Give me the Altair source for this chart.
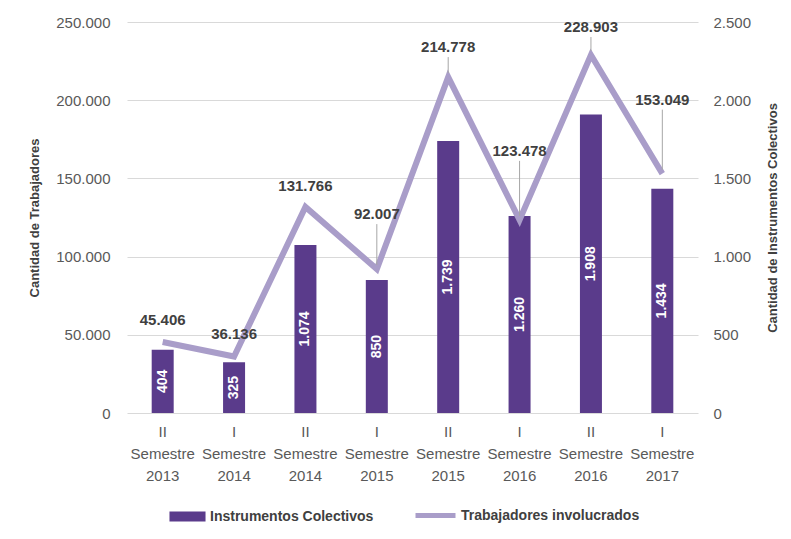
import altair as alt
import pandas as pd

categories = ["II|Semestre|2013", "I|Semestre|2014", "II|Semestre|2014", "I|Semestre|2015",
              "II|Semestre|2015", "I|Semestre|2016", "II|Semestre|2016", "I|Semestre|2017"]
instrumentos = [404, 325, 1074, 850, 1739, 1260, 1908, 1434]
trabajadores = [45406, 36136, 131766, 92007, 214778, 123478, 228903, 153049]

# label styling (vertical lift of the line labels in pixels, and whether a leader line is drawn)
label_lift_px = [22, 22, 21, 55, 30, 69, 28, 74]
leader = [False, False, False, True, True, True, True, True]

W, H = 571, 391
YMAX_L, YMAX_R = 250000, 2500
px = YMAX_L / H


def fmt(v):
    return f"{v:,}".replace(",", ".")


df = pd.DataFrame({
    "cat": categories,
    "inst": instrumentos,
    "trab": trabajadores,
})
df["inst_mid"] = df["inst"] / 2
df["inst_lbl"] = [fmt(v) for v in instrumentos]
df["trab_lbl"] = [fmt(v) for v in trabajadores]
df["lbl_y"] = [t + l * px for t, l in zip(trabajadores, label_lift_px)]
df["lead_top"] = [t + (l - 10) * px for t, l in zip(trabajadores, label_lift_px)]
df["lead_bot"] = [t + 4 * px for t in trabajadores]
df["leader"] = leader

FONT = "Liberation Sans"
GRAY = "#595959"
DARK = "#404040"
BAR = "#5a3b8b"
LINE = "#a99dc9"

xenc = alt.X("cat:N", sort=categories, title=None,
             scale=alt.Scale(paddingInner=0, paddingOuter=0),
             axis=alt.Axis(labelExpr="split(datum.label, '|')", labelAngle=0,
                           labelFont=FONT, labelFontSize=15, labelColor=GRAY,
                           labelLineHeight=22, labelPadding=11, labelBaseline="top",
                           ticks=False, domain=False))

yL = alt.Scale(domain=[0, YMAX_L])
yR = alt.Scale(domain=[0, YMAX_R])

bars = alt.Chart(df).mark_bar(size=22).encode(
    x=xenc,
    y=alt.Y("inst:Q", scale=yR, title="Cantidad de Instrumentos Colectivos",
            axis=alt.Axis(orient="right", values=[0, 500, 1000, 1500, 2000, 2500],
                          labelExpr="replace(format(datum.value, ','), ',', '.')",
                          grid=False, ticks=False, domain=False,
                          labelFont=FONT, labelFontSize=15, labelColor=GRAY, labelPadding=15,
                          titleFont=FONT, titleFontSize=13, titleFontWeight="bold",
                          titleColor=DARK, titlePadding=29, titleAngle=270)),
    color=alt.Color("serie:N", scale=alt.Scale(domain=["Instrumentos Colectivos"], range=[BAR]),
                    legend=alt.Legend(title=None, orient="none", legendX=42, legendY=476,
                                      symbolType="M-1,-0.28h2v0.56h-2z", symbolSize=1300,
                                      symbolStrokeWidth=0, labelFont=FONT, labelFontSize=14,
                                      labelFontWeight="bold", labelColor=DARK, padding=0,
                                      labelOffset=4, labelLimit=0)),
).transform_calculate(serie="'Instrumentos Colectivos'")

bar_text = alt.Chart(df).mark_text(angle=270, color="white", font=FONT, fontSize=14,
                                   fontWeight="bold", baseline="middle", align="center").encode(
    x=alt.X("cat:N", sort=categories),
    y=alt.Y("inst_mid:Q", scale=yR),
    text="inst_lbl:N",
)

right = alt.layer(bars, bar_text)

line = alt.Chart(df).mark_line(strokeWidth=6).encode(
    x=alt.X("cat:N", sort=categories),
    y=alt.Y("trab:Q", scale=yL, title="Cantidad de Trabajadores",
            axis=alt.Axis(orient="left", values=[0, 50000, 100000, 150000, 200000, 250000],
                          labelExpr="replace(format(datum.value, ','), ',', '.')",
                          grid=True, gridColor="#d9d9d9", gridWidth=1,
                          ticks=False, domain=False,
                          labelFont=FONT, labelFontSize=15, labelColor=GRAY, labelPadding=17,
                          titleFont=FONT, titleFontSize=13, titleFontWeight="bold",
                          titleColor=DARK, titlePadding=14)),
    stroke=alt.Stroke("serie:N", scale=alt.Scale(domain=["Trabajadores involucrados"], range=[LINE]),
                      legend=alt.Legend(title=None, orient="none", legendX=286, legendY=471,
                                        symbolType="stroke", symbolSize=1600,
                                        symbolStrokeWidth=5, labelFont=FONT, labelFontSize=14,
                                        labelFontWeight="bold", labelColor=DARK, padding=0,
                                        labelOffset=3, labelLimit=0)),
).transform_calculate(serie="'Trabajadores involucrados'")

leaders = alt.Chart(df).transform_filter("datum.leader").mark_rule(
    color="#a6a6a6", strokeWidth=1).encode(
    x=alt.X("cat:N", sort=categories),
    y=alt.Y("lead_bot:Q", scale=yL),
    y2="lead_top:Q",
)

line_text = alt.Chart(df).mark_text(font=FONT, fontSize=15, fontWeight="bold", color=DARK,
                                    baseline="middle", align="center").encode(
    x=alt.X("cat:N", sort=categories),
    y=alt.Y("lbl_y:Q", scale=yL),
    text="trab_lbl:N",
)

left = alt.layer(line, leaders, line_text)

chart = alt.layer(right, left).resolve_scale(
    y="independent", color="independent", stroke="independent"
).properties(
    width=W, height=H,
    padding={"left": 20, "top": 7, "right": 0, "bottom": 5},
    background="white",
).configure_view(stroke=None)

chart.save("out.html", embed_options={"renderer": "svg", "actions": False})
